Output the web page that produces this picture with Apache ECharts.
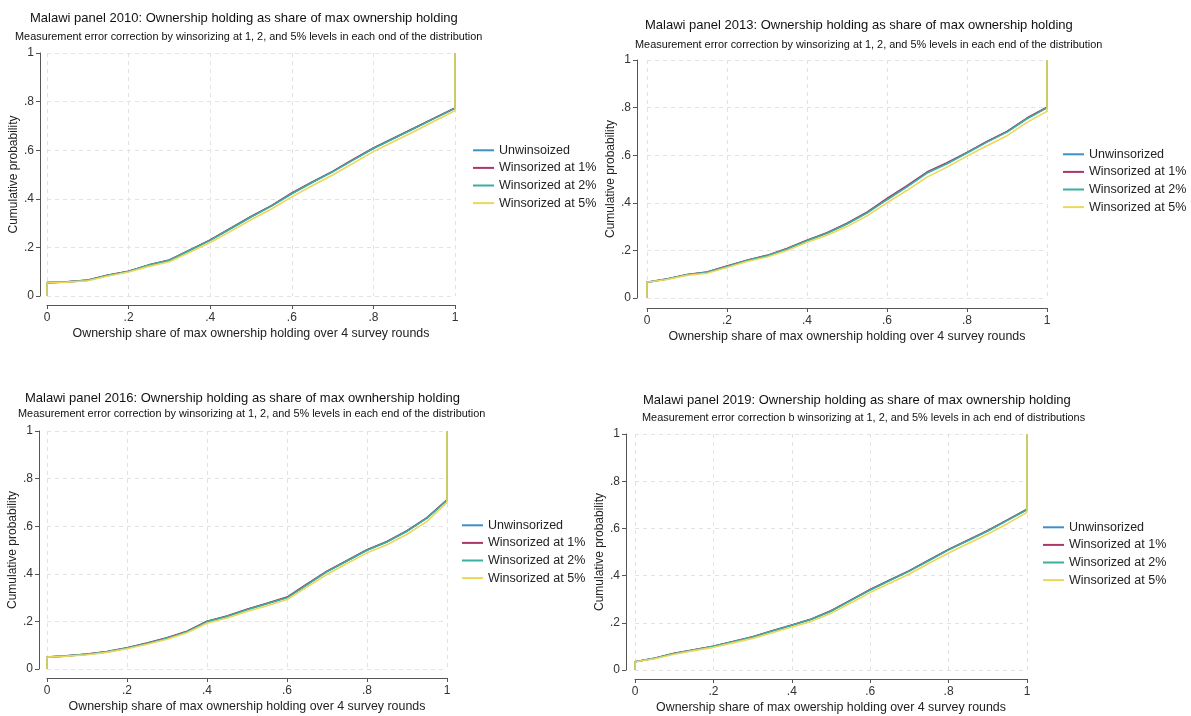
<!DOCTYPE html>
<html>
<head>
<meta charset="utf-8">
<script src="https://cdn.jsdelivr.net/npm/echarts@6/dist/echarts.min.js"></script>
<style>
html,body{margin:0;padding:0;background:#fff;}
#chart{width:1191px;height:716px;}
</style>
</head>
<body>
<div id="chart"></div>
<script>
// ---- data ----
const shareX = [0, 0, 0.05, 0.1, 0.15, 0.2, 0.25, 0.3, 0.35, 0.4, 0.45, 0.5, 0.55, 0.6, 0.65, 0.7, 0.75, 0.8, 0.85, 0.9, 0.95, 1, 1];
const xTicks = [0, 0.2, 0.4, 0.6, 0.8, 1];
const yTicks = [0, 0.2, 0.4, 0.6, 0.8, 1];

const titles = [
  "Malawi panel 2010: Ownership holding as share of max ownership holding",
  "Malawi panel 2013: Ownership holding as share of max ownership holding",
  "Malawi panel 2016: Ownership holding as share of max ownhership holding",
  "Malawi panel 2019: Ownership holding as share of max ownership holding"
];
const subtitles = [
  "Measurement error correction by winsorizing at 1, 2, and 5% levels in each ond of the distribution",
  "Measurement error correction by winsorizing at 1, 2, and 5% levels in each end of the distribution",
  "Measurement error correction by winsorizing at 1, 2, and 5% levels in each end of the distribution",
  "Measurement error correction b winsorizing at 1, 2, and 5% levels in ach end of distributions"
];
const xTitles = [
  "Ownership share of max ownership holding over 4 survey rounds",
  "Ownership share of max ownership holding over 4 survey rounds",
  "Ownership share of max ownership holding over 4 survey rounds",
  "Ownership share of max owership holding over 4 survey rounds"
];
const yTitle = "Cumulative probability";
const seriesNames = [
  ["Unwinsoized", "Winsorized at 1%", "Winsorized at 2%", "Winsorized at 5%"],
  ["Unwinsorized", "Winsorized at 1%", "Winsorized at 2%", "Winsorized at 5%"],
  ["Unwinsorized", "Winsorized at 1%", "Winsorized at 2%", "Winsorized at 5%"],
  ["Unwinsorized", "Winsorized at 1%", "Winsorized at 2%", "Winsorized at 5%"]
];

// Panel 2010
const p2010_unw = [0, .055, .058, .065, .085, .102, .127, .147, .188, .230, .278, .326, .371, .422, .468, .512, .560, .608, .649, .690, .732, .773, 1];
const p2010_w1  = [0, .055, .058, .066, .086, .102, .128, .148, .189, .231, .279, .327, .372, .424, .469, .513, .562, .609, .650, .691, .733, .774, 1];
const p2010_w2  = [0, .055, .058, .065, .085, .101, .127, .147, .188, .229, .277, .325, .370, .421, .467, .511, .559, .607, .648, .689, .731, .772, 1];
const p2010_w5  = [0, .055, .057, .063, .082, .099, .122, .141, .180, .220, .266, .314, .358, .408, .454, .498, .546, .594, .636, .677, .720, .762, 1];
// Panel 2013
const p2013_unw = [0, .066, .080, .098, .108, .133, .158, .178, .207, .242, .273, .312, .359, .415, .469, .527, .566, .611, .657, .699, .755, .801, 1];
const p2013_w1  = [0, .066, .080, .099, .109, .134, .159, .179, .208, .243, .274, .314, .361, .418, .472, .529, .568, .612, .658, .700, .756, .802, 1];
const p2013_w2  = [0, .066, .080, .098, .108, .132, .157, .177, .206, .241, .272, .311, .357, .413, .467, .525, .564, .609, .655, .697, .753, .799, 1];
const p2013_w5  = [0, .066, .078, .095, .104, .128, .153, .172, .200, .234, .264, .300, .345, .400, .452, .508, .550, .596, .640, .682, .738, .784, 1];
// Panel 2016
const p2016_unw = [0, .050, .055, .062, .072, .088, .108, .130, .158, .200, .222, .250, .275, .300, .355, .410, .455, .500, .535, .580, .635, .710, 1];
const p2016_w1  = [0, .050, .055, .063, .073, .089, .109, .131, .159, .201, .223, .251, .276, .302, .357, .411, .456, .501, .536, .581, .636, .711, 1];
const p2016_w2  = [0, .050, .055, .062, .072, .088, .107, .129, .157, .199, .221, .249, .274, .299, .354, .409, .454, .499, .534, .579, .634, .709, 1];
const p2016_w5  = [0, .050, .054, .060, .070, .085, .104, .125, .152, .192, .214, .242, .266, .292, .344, .398, .443, .488, .522, .566, .620, .700, 1];
// Panel 2019
const p2019_unw = [0, .035, .050, .070, .085, .100, .120, .140, .165, .190, .215, .250, .295, .340, .380, .420, .465, .510, .550, .590, .635, .680, 1];
const p2019_w1  = [0, .035, .050, .071, .086, .101, .121, .141, .166, .191, .216, .251, .296, .341, .381, .421, .466, .511, .551, .591, .636, .681, 1];
const p2019_w2  = [0, .035, .050, .070, .085, .100, .120, .140, .165, .190, .215, .249, .294, .339, .379, .419, .464, .509, .549, .589, .634, .679, 1];
const p2019_w5  = [0, .035, .048, .067, .082, .096, .115, .134, .158, .182, .206, .240, .284, .328, .368, .407, .452, .496, .536, .576, .620, .668, 1];

const panelData = [
  [p2010_unw, p2010_w1, p2010_w2, p2010_w5],
  [p2013_unw, p2013_w1, p2013_w2, p2013_w5],
  [p2016_unw, p2016_w1, p2016_w2, p2016_w5],
  [p2019_unw, p2019_w1, p2019_w2, p2019_w5]
];

// ---- layout / style ----
const colors = ['#4090c4', '#a8386a', '#38b0a0', '#ecd75a'];
const FONT = 'Liberation Sans, Arial, sans-serif';
const grids = [
  {left: 47, top: 53, width: 408, height: 243},
  {left: 647, top: 60, width: 400, height: 238},
  {left: 47, top: 431, width: 400, height: 238},
  {left: 635, top: 434, width: 392, height: 236}
];
const xOff = [9, 10, 9, 9];
const yOff = [7, 10, 8, 9];
const titlePos = [
  {l: 30, t: 11.5, sl: 15, st: 31.5},
  {l: 645, t: 18.5, sl: 635, st: 39.5},
  {l: 25, t: 391.5, sl: 18, st: 408.5},
  {l: 643, t: 393.5, sl: 642, st: 412.5}
];
const legendPos = [
  {l: 473, t: 143},
  {l: 1063, t: 147},
  {l: 462, t: 518},
  {l: 1043, t: 520}
];

function tickFmt(v) {
  if (Math.abs(v) < 1e-9) return '0';
  if (Math.abs(v - 1) < 1e-9) return '1';
  return '.' + Math.round(v * 10);
}

const option = {
  backgroundColor: '#fff',
  animation: false,
  title: [],
  grid: [],
  xAxis: [],
  yAxis: [],
  legend: [],
  series: []
};

for (let p = 0; p < 4; p++) {
  option.title.push({
    text: titles[p], left: titlePos[p].l, top: titlePos[p].t, padding: 0,
    textStyle: {fontFamily: FONT, fontSize: 13, fontWeight: 'normal', color: '#111'}
  });
  option.title.push({
    text: subtitles[p], left: titlePos[p].sl, top: titlePos[p].st, padding: 0,
    textStyle: {fontFamily: FONT, fontSize: 10.9, fontWeight: 'normal', color: '#111'}
  });
  option.grid.push(Object.assign({containLabel: false}, grids[p]));
  option.xAxis.push({
    type: 'value', gridIndex: p, min: 0, max: 1, interval: 0.2, offset: xOff[p],
    name: xTitles[p], nameLocation: 'middle', nameGap: 23,
    nameTextStyle: {fontFamily: FONT, fontSize: 12.4, color: '#222'},
    axisLine: {show: true, onZero: false, lineStyle: {color: '#555', width: 1}},
    axisTick: {show: true, length: 4, lineStyle: {color: '#555'}},
    axisLabel: {formatter: tickFmt, fontFamily: FONT, fontSize: 12, color: '#333', margin: 7},
    splitLine: {show: true, lineStyle: {color: '#e2e2e2', type: [4, 4], width: 1}}
  });
  option.yAxis.push({
    type: 'value', gridIndex: p, min: 0, max: 1, interval: 0.2, offset: yOff[p],
    name: yTitle, nameLocation: 'middle', nameGap: 14, nameRotate: 90,
    nameTextStyle: {fontFamily: FONT, fontSize: 12, color: '#222'},
    axisLine: {show: true, onZero: false, lineStyle: {color: '#555', width: 1}},
    axisTick: {show: true, length: 4, lineStyle: {color: '#555'}},
    axisLabel: {formatter: tickFmt, fontFamily: FONT, fontSize: 12, color: '#333', margin: 6},
    splitLine: {show: true, lineStyle: {color: '#e2e2e2', type: [4, 4], width: 1}}
  });
  option.legend.push({
    data: seriesNames[p], left: legendPos[p].l, top: legendPos[p].t, orient: 'vertical',
    padding: 0, icon: 'rect', itemWidth: 21, itemHeight: 2, itemGap: 3,
    textStyle: {fontFamily: FONT, fontSize: 12.5, color: '#222', lineHeight: 14.6},
    selectedMode: false
  });
  for (let s = 0; s < 4; s++) {
    const ys = panelData[p][s];
    option.series.push({
      type: 'line', name: seriesNames[p][s], xAxisIndex: p, yAxisIndex: p,
      symbol: 'none', showSymbol: false,
      data: shareX.map((x, i) => [x, ys[i]]),
      lineStyle: {color: colors[s], width: 1.6},
      itemStyle: {color: colors[s]},
      z: 2 + s
    });
  }
}

const chart = echarts.init(document.getElementById('chart'), null, {renderer: 'canvas'});
chart.setOption(option);
</script>
</body>
</html>
